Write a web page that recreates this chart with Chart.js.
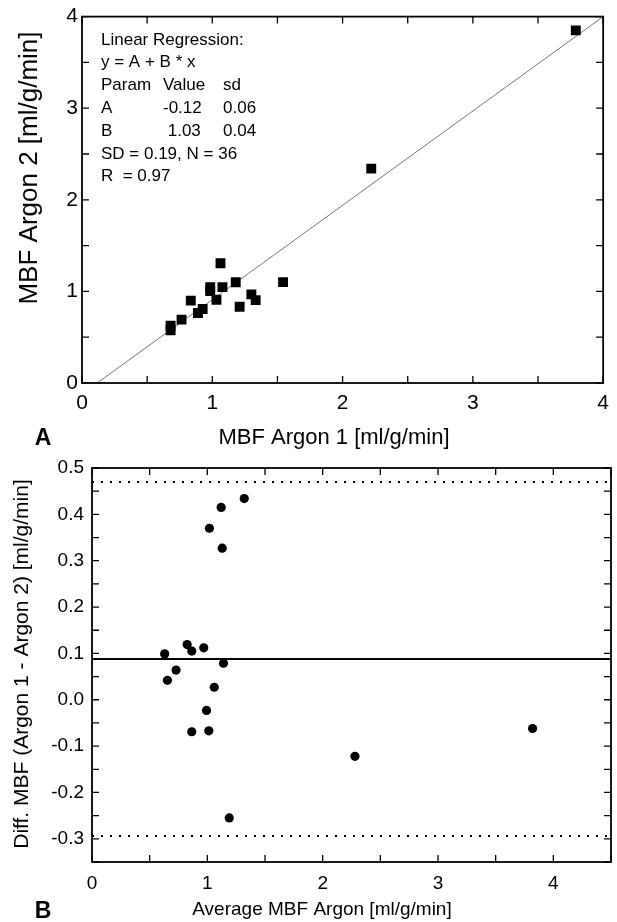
<!DOCTYPE html>
<html>
<head>
<meta charset="utf-8">
<script src="https://cdn.jsdelivr.net/npm/chart.js@4.4.1/dist/chart.umd.min.js"></script>
<style>
  body { margin: 0; background: #fff; width: 617px; height: 922px; position: relative; overflow: hidden; }
  canvas { position: absolute; left: 0; }
  #chartA { top: 0; }
  #chartB { top: 440px; }
</style>
</head>
<body>
<canvas id="chartA" width="617" height="460"></canvas>
<canvas id="chartB" width="617" height="482"></canvas>
<script>
// panel A: MBF Argon 1 vs Argon 2 (ml/g/min)
const argon1 = [0.68, 0.68, 0.764, 0.835, 0.89, 0.926, 0.984, 0.984, 1.032, 1.063, 1.078, 1.18, 1.21, 1.30, 1.333, 1.543, 2.22, 3.79];
const argon2 = [0.626, 0.576, 0.692, 0.899, 0.764, 0.808, 1.047, 1.003, 0.909, 1.307, 1.047, 1.10, 0.833, 0.967, 0.905, 1.101, 2.34, 3.85];
const regA = -0.12, regB = 1.03;
const regText = [
  ["Linear Regression:"],
  ["y = A + B * x"],
  ["Param", "Value", "sd"],
  ["A", "-0.12", "0.06"],
  ["B", " 1.03", "0.04"],
  ["SD = 0.19, N = 36"],
  ["R  = 0.97"]
];
const ticksA = [0, 1, 2, 3, 4];

// panel B: Bland-Altman
const avgMBF = [1.32, 1.12, 1.018, 1.129, 0.63, 0.654, 0.729, 0.825, 0.865, 0.969, 1.14, 1.06, 0.993, 0.865, 1.013, 2.28, 3.82, 1.19];
const diffMBF = [0.434, 0.415, 0.37, 0.327, 0.099, 0.042, 0.064, 0.119, 0.105, 0.112, 0.079, 0.027, -0.023, -0.069, -0.067, -0.122, -0.062, -0.255];
const meanDiff = 0.088;
const limits = [0.47, -0.294];
const ticksBx = [0, 1, 2, 3, 4];
const ticksBy = [-0.3, -0.2, -0.1, 0.0, 0.1, 0.2, 0.3, 0.4, 0.5];

const FONT = '"Liberation Sans", Arial, Helvetica, sans-serif';
Chart.defaults.font.family = FONT;
Chart.defaults.color = '#000';

// frame, inward ticks, titles and text
const decor = {
  id: 'decor',
  afterDatasetsDraw(chart, args, o) {
    const { ctx, chartArea: a } = chart;
    const sx = chart.scales.x, sy = chart.scales.y;
    ctx.save();
    ctx.strokeStyle = '#000';
    ctx.lineWidth = 1.3;
    ctx.beginPath();
    for (let v = sx.min; v <= sx.max + 1e-9; v += o.xMinor) {
      const p = sx.getPixelForValue(v);
      ctx.moveTo(p, a.bottom); ctx.lineTo(p, a.bottom - o.tick);
      ctx.moveTo(p, a.top); ctx.lineTo(p, a.top + o.tick);
    }
    for (let v = o.yFirst; v <= sy.max + 1e-9; v += o.yMinor) {
      const p = sy.getPixelForValue(v);
      ctx.moveTo(a.left, p); ctx.lineTo(a.left + o.tick, p);
      ctx.moveTo(a.right, p); ctx.lineTo(a.right - o.tick, p);
    }
    ctx.stroke();
    ctx.lineWidth = 1.8;
    ctx.strokeRect(a.left, a.top, a.right - a.left, a.bottom - a.top);
    ctx.restore();
  },
  afterDraw(chart, args, o) {
    const ctx = chart.ctx;
    ctx.save();
    ctx.fillStyle = '#000';
    ctx.textAlign = 'center';
    ctx.textBaseline = 'middle';
    ctx.font = o.xTitle.font;
    ctx.fillText(o.xTitle.text, o.xTitle.x, o.xTitle.y);
    ctx.font = o.panel.font;
    ctx.fillText(o.panel.text, o.panel.x, o.panel.y);
    ctx.save();
    ctx.translate(o.yTitle.x, o.yTitle.y);
    ctx.rotate(-Math.PI / 2);
    ctx.font = o.yTitle.font;
    ctx.fillText(o.yTitle.text, 0, 0);
    ctx.restore();
    if (o.box) {
      ctx.textAlign = 'left';
      ctx.font = o.box.font;
      o.box.lines.forEach((row, i) => {
        row.forEach((t, j) => ctx.fillText(t, o.box.x + o.box.cols[j], o.box.y + i * o.box.dy));
      });
    }
    ctx.restore();
  }
};

function axis(min, max, vals, size, pad, fmt, fit) {
  return {
    type: 'linear', min, max,
    grid: { display: false, drawTicks: false },
    border: { display: false },
    afterBuildTicks: s => { s.ticks = vals.map(v => ({ value: v })); },
    afterFit: fit,
    ticks: { font: { size }, padding: pad, color: '#000', callback: fmt }
  };
}

// top chart
const x0 = -regA / regB;
new Chart(document.getElementById('chartA'), {
  type: 'scatter',
  data: {
    datasets: [
      {
        data: argon1.map((v, i) => ({ x: v, y: argon2[i] })),
        pointStyle: 'rect', pointRadius: 7, backgroundColor: '#000', borderWidth: 0
      },
      {
        data: [{ x: x0, y: regA + regB * x0 }, { x: 4, y: regA + regB * 4 }],
        showLine: true, pointRadius: 0, borderColor: '#777', borderWidth: 1
      }
    ]
  },
  options: {
    responsive: false, animation: false,
    layout: { padding: { top: 15, right: 8, left: 0, bottom: 0 } },
    plugins: {
      legend: { display: false }, tooltip: { enabled: false },
      decor: {
        xMinor: 0.5, yMinor: 0.5, yFirst: 0, tick: 7,
        xTitle: { text: 'MBF Argon 1 [ml/g/min]', x: 334, y: 438, font: '22px ' + FONT },
        yTitle: { text: 'MBF Argon 2 [ml/g/min]', x: 30, y: 168, font: '26px ' + FONT },
        panel: { text: 'A', x: 43, y: 439, font: 'bold 23px ' + FONT },
        box: { x: 101, y: 40, dy: 22.8, cols: [0, 62, 122], font: '17px ' + FONT, lines: regText }
      }
    },
    scales: {
      x: axis(0, 4, ticksA, 21, 8, v => String(v), s => { s.height = 77; }),
      y: axis(0, 4, ticksA, 21, 4, v => String(v), s => { s.width = 82; })
    }
  },
  plugins: [decor]
});

// bottom chart
new Chart(document.getElementById('chartB'), {
  type: 'scatter',
  data: {
    datasets: [
      {
        data: avgMBF.map((v, i) => ({ x: v, y: diffMBF[i] })),
        pointStyle: 'circle', pointRadius: 4.6, backgroundColor: '#000', borderWidth: 0
      },
      {
        data: [{ x: 0, y: meanDiff }, { x: 4.5, y: meanDiff }],
        showLine: true, pointRadius: 0, borderColor: '#000', borderWidth: 2
      },
      {
        data: [{ x: 0, y: limits[0] }, { x: 4.5, y: limits[0] }],
        showLine: true, pointRadius: 0, borderColor: '#000', borderWidth: 2, borderDash: [2, 7]
      },
      {
        data: [{ x: 0, y: limits[1] }, { x: 4.5, y: limits[1] }],
        showLine: true, pointRadius: 0, borderColor: '#000', borderWidth: 2, borderDash: [2, 7]
      }
    ]
  },
  options: {
    responsive: false, animation: false,
    layout: { padding: { top: 28, right: 6, left: 0, bottom: 0 } },
    plugins: {
      legend: { display: false }, tooltip: { enabled: false },
      decor: {
        xMinor: 0.5, yMinor: 0.05, yFirst: -0.35, tick: 7,
        xTitle: { text: 'Average MBF Argon [ml/g/min]', x: 322, y: 470, font: '19px ' + FONT },
        yTitle: { text: 'Diff. MBF (Argon 1 - Argon 2) [ml/g/min]', x: 22, y: 224, font: '21px ' + FONT },
        panel: { text: 'B', x: 43, y: 472, font: 'bold 23px ' + FONT }
      }
    },
    scales: {
      x: axis(0, 4.5, ticksBx, 19, 10, v => String(v), s => { s.height = 60; }),
      y: axis(-0.35, 0.5, ticksBy, 19, 8, v => v.toFixed(1), s => { s.width = 92; })
    }
  },
  plugins: [decor]
});
</script>
</body>
</html>
